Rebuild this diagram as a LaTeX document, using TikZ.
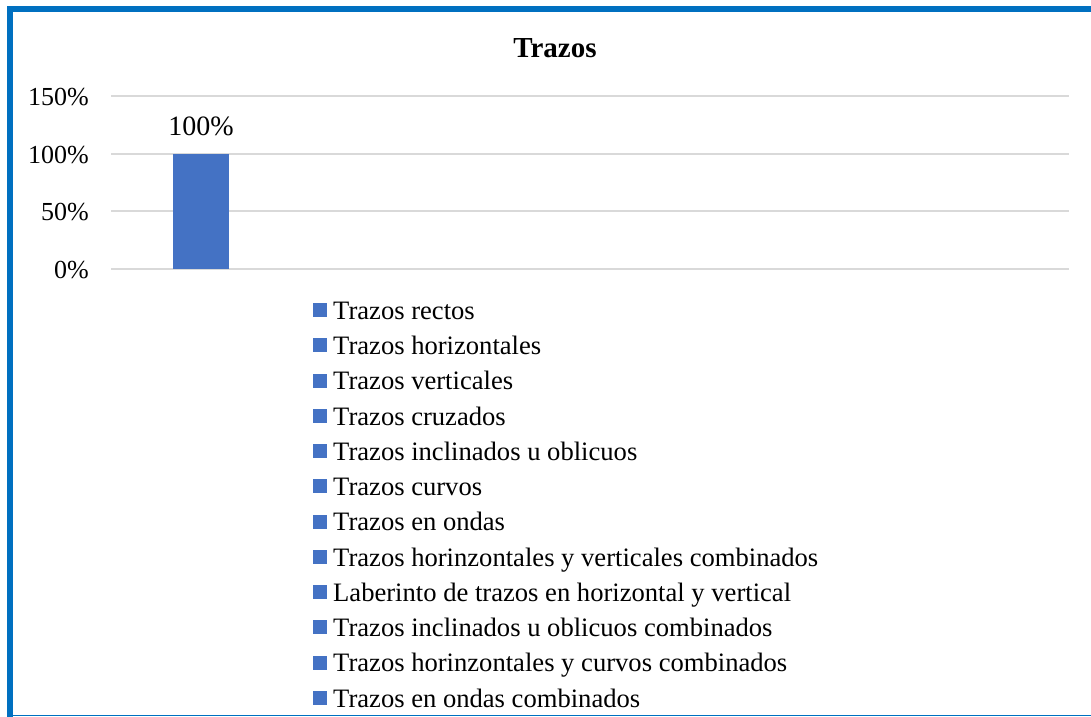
\documentclass[tikz,border=0pt]{standalone}
\usepackage{fontspec}
\setmainfont{Liberation Serif}
\definecolor{marco}{HTML}{0070C0}
\definecolor{barra}{HTML}{4472C4}
\definecolor{rejilla}{HTML}{D9D9D9}
\tikzset{
  etiq/.style={font=\fontsize{26}{26}\selectfont,inner sep=0pt},
  leyenda/.style={font=\fontsize{26.6}{26.6}\selectfont,inner sep=0pt,anchor=base west},
  cuadro/.style={fill=barra,minimum size=14pt,inner sep=0pt}
}
\begin{document}
\begin{tikzpicture}[x=1pt,y=-1pt,line cap=rect]
\useasboundingbox (0,0) rectangle (1091,716);
\fill[white] (0,0) rectangle (1091,716);
% marco
\draw[marco,line width=6pt] (10,716) -- (10,9) -- (1091,9);
\draw[marco,line width=1.2pt] (10,715.4) -- (1091,715.4);
% titulo
\node[etiq,font=\bfseries\fontsize{29}{29}\selectfont] (titulo) at (555,48) {Trazos};
% rejilla y eje
\foreach \v/\y in {0/269,50/211,100/154,150/96}{
  \draw[rejilla,line width=1.5pt] (112,\y) -- (1068,\y);
  \node[etiq,anchor=base east] (eje\v) at (89,\y+9) {\v\%};
}
% barra
\fill[barra] (173,154) rectangle (229,269);
\node[etiq,anchor=base,font=\fontsize{28}{28}\selectfont] (valor) at (201,135) {100\%};
% leyenda
\foreach \txt [count=\i] in {Trazos rectos,Trazos horizontales,Trazos verticales,Trazos cruzados,Trazos inclinados u oblicuos,Trazos curvos,Trazos en ondas,Trazos horinzontales y verticales combinados,Laberinto de trazos en horizontal y vertical,Trazos inclinados u oblicuos combinados,Trazos horinzontales y curvos combinados,Trazos en ondas combinados}{
  \node[cuadro] (c\i) at (320,{319.3+35.25*(\i-1)-9.3}) {};
  \node[leyenda] (l\i) at (333,{319.3+35.25*(\i-1)}) {\txt};
}
\end{tikzpicture}
\end{document}
